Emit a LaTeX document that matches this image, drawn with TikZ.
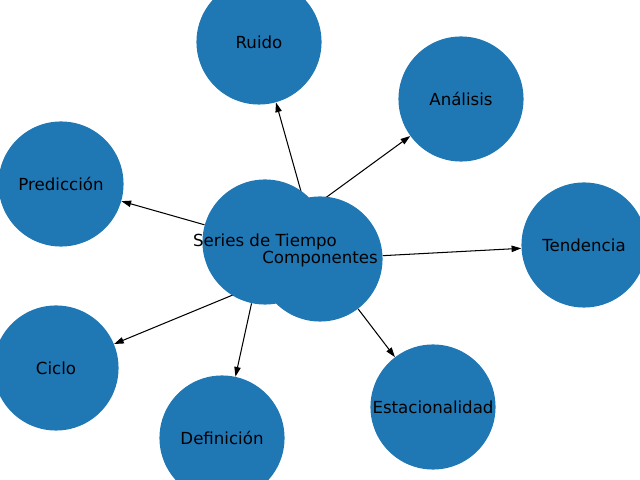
\documentclass[tikz,border=0pt]{standalone}
\usepackage{fontspec}
\setmainfont{DejaVu Sans}
\usepackage{xcolor}
\usetikzlibrary{arrows.meta,backgrounds}
\definecolor{tabblue}{HTML}{1F77B4}
\tikzset{
  tnode/.style={circle, fill=tabblue, draw=none, minimum size=1.25in, inner sep=0pt},
  tlabel/.style={font=\fontsize{12}{14}\selectfont, text=black, inner sep=0pt}
}

\begin{document}
\begin{tikzpicture}[
  x=0.01in, y=-0.01in,
  arrow/.style={-{Triangle[length=7pt, width=4.6pt]}, line width=0.75pt, draw=black}
]
  \useasboundingbox (0,0) rectangle (640,480);

  % --- circles ---
  \node[tnode] (ruido) at (259, 42) {};
  \node[tnode] (analisis) at (461, 99) {};
  \node[tnode] (prediccion) at (61, 184) {};
  \node[tnode] (tendencia) at (584, 245) {};
  \node[tnode] (ciclo) at (56, 368) {};
  \node[tnode] (definicion) at (222, 438) {};
  \node[tnode] (estacionalidad) at (433, 407) {};
  \node[tnode] (series) at (265, 242) {};
  \node[tnode] (componentes) at (320, 259) {};

  % --- edges (under the circles) ---
  \begin{scope}[on background layer]
    \draw[arrow] (series) -- (analisis);
    \draw[arrow] (series) -- (prediccion);
    \draw[arrow] (series) -- (definicion);
    \draw[arrow] (componentes) -- (ruido);
    \draw[arrow] (componentes) -- (tendencia);
    \draw[arrow] (componentes) -- (ciclo);
    \draw[arrow] (componentes) -- (estacionalidad);
  \end{scope}

  % --- labels ---
  \node[tlabel] (ruido-l) at (ruido.center) {Ruido};
  \node[tlabel] (analisis-l) at (analisis.center) {Análisis};
  \node[tlabel] (prediccion-l) at (prediccion.center) {Predicción};
  \node[tlabel] (tendencia-l) at (tendencia.center) {Tendencia};
  \node[tlabel] (ciclo-l) at (ciclo.center) {Ciclo};
  \node[tlabel] (definicion-l) at (definicion.center) {Definición};
  \node[tlabel] (estacionalidad-l) at (estacionalidad.center) {Estacionalidad};
  \node[tlabel] (series-l) at (series.center) {Series de Tiempo};
  \node[tlabel] (componentes-l) at (componentes.center) {Componentes};

\end{tikzpicture}
\end{document}
